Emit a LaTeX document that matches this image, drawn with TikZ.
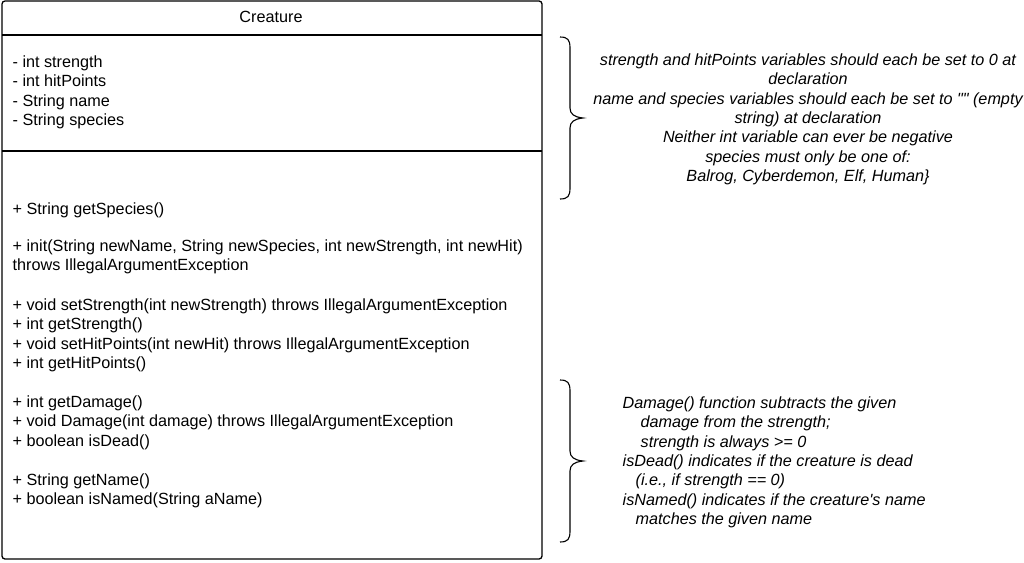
\documentclass[tikz,border=0pt]{standalone}
\usepackage{fontspec}
\setmainfont{Liberation Sans}[Ligatures=TeXOff]
\usetikzlibrary{positioning}

\begin{document}
\begin{tikzpicture}[x=1pt, y=-1pt, line width=1.3pt,
                    every node/.style={inner sep=0pt,
                    font=\fontsize{16.2}{19.35}\selectfont},
                    member/.style={anchor=north west, align=left},
                    note/.style={font=\fontsize{16.2}{19.35}\selectfont\itshape}]
                      \useasboundingbox (0,0) rectangle (1024,562);
                      % class box
                      \draw[rounded corners=3pt] (2,1) rectangle (542,559);
                      \draw (2,35) -- (542,35);
                      \draw (2,151) -- (542,151);
                      \node (title) at (271,16.5) {Creature};
                      \node[member] (attrs) at (12,55.2)
                      {- int strength\\- int hitPoints\\- String name\\- String species};
                      % methods
                      \node[member] (getsp) at (12,202.2) {+ String getSpecies()};
                      \node[member] (init) at (12,239.2)
                      {+ init(String newName, String newSpecies, int newStrength, int newHit)\\
                      throws IllegalArgumentException};
                      \node[member] (stats) at (12,298.2)
                      {+ void setStrength(int newStrength) throws IllegalArgumentException\\
                      + int getStrength()\\
                      + void setHitPoints(int newHit) throws IllegalArgumentException\\
                      + int getHitPoints()};
                      \node[member] (damage) at (12,395.2)
                      {+ int getDamage()\\
                      + void Damage(int damage) throws IllegalArgumentException\\
                      + boolean isDead()};
                      \node[member] (names) at (12,473.2)
                      {+ String getName()\\+ boolean isNamed(String aName)};
                      % braces
                      \draw[line width=1.1pt] (560,37) .. controls (568,37) and (570,40) .. (570,48)
                      -- (570,108) .. controls (570,114) and (574,117) .. (583,118)
                      .. controls (574,119) and (570,122) .. (570,128)
                      -- (570,188) .. controls (570,196) and (568,199) .. (560,199);
                      \draw[line width=1.1pt, shift={(0,343)}] (560,37) .. controls (568,37) and (570,40) .. (570,48)
                      -- (570,108) .. controls (570,114) and (574,117) .. (583,118)
                      .. controls (574,119) and (570,122) .. (570,128)
                      -- (570,188) .. controls (570,196) and (568,199) .. (560,199);
                      % notes
                      \node[note, anchor=north, align=center] (fieldnote) at (808,53.2)
                      {strength and hitPoints variables should each be set to 0 at\\
                      declaration\\
                      name and species variables should each be set to "" (empty\\
                      string) at declaration\\
                      Neither int variable can ever be negative\\
                      species must only be one of:\\
                      Balrog, Cyberdemon, Elf, Human\}};
                      \node[note, anchor=north west, align=left] (methodnote) at (622,396.2)
                      {Damage() function subtracts the given\\
                      \hspace*{18pt}damage from the strength;\\
                      \hspace*{18pt}strength is always >= 0\\
                      isDead() indicates if the creature is dead\\
                      \hspace*{13pt}(i.e., if strength == 0)\\
                      isNamed() indicates if the creature's name\\
                      \hspace*{13pt}matches the given name};
                  \end{tikzpicture}
\end{document}
